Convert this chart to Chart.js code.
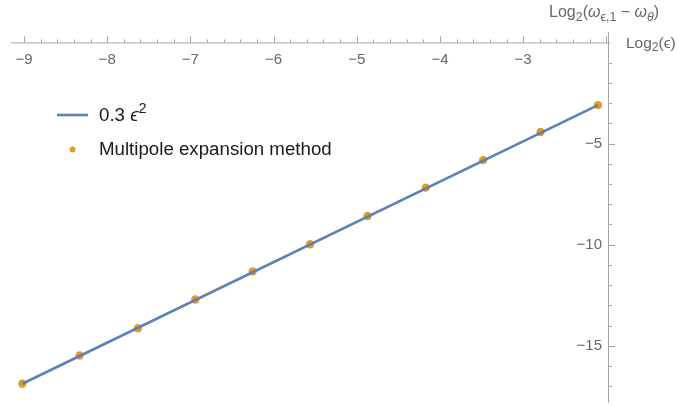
<!DOCTYPE html>
<html lang="en">
<head>
    <meta charset="UTF-8" />
    <title>Log2 plot</title>
    <script src="https://cdn.jsdelivr.net/npm/chart.js"></script>
    <style>
        html, body { margin: 0; padding: 0; background: #fff; }
        #wrap { width: 679px; height: 407px; position: relative; }
    </style>
</head>
<body>
<div id="wrap"><canvas id="chart"></canvas></div>

<script>
    // data
    const pointsX = [-9.02, -8.33, -7.63, -6.94, -6.25, -5.56, -4.87, -4.17, -3.48, -2.79, -2.10];
    const pointsY = [-16.88, -15.48, -14.13, -12.71, -11.32, -9.98, -8.58, -7.18, -5.82, -4.43, -3.10];
    const lineX = [-9.02, -2.10];
    const lineY = [-16.88, -3.10];

    const xTickLabels = [-9, -8, -7, -6, -5, -4, -3];
    const yTickLabels = [-15, -10, -5];

    const BLUE = '#5e81b5';
    const ORANGE = '#e19c24';
    const AXIS = '#a6a6a6';
    const TICKTEXT = '#666666';
    const FONT = '"Liberation Sans", Arial, sans-serif';

    const minus = v => (v < 0 ? '\u2212' + Math.abs(v) : String(v));

    // draws text pieces with sub/superscripts, returns width
    function drawRich(ctx, x, y, parts, size, color) {
        ctx.save();
        ctx.fillStyle = color;
        ctx.textBaseline = 'middle';
        ctx.textAlign = 'left';
        let cx = x;
        for (const p of parts) {
            const s = (p.sub || p.sup) ? size * 0.78 : size;
            ctx.font = (p.italic ? 'italic ' : '') + s + 'px ' + FONT;
            let dy = 0;
            if (p.sub) dy = size * 0.3;
            if (p.sup) dy = -size * 0.36;
            ctx.fillText(p.t, cx, y + dy);
            cx += ctx.measureText(p.t).width;
        }
        ctx.restore();
        return cx - x;
    }

    const axesPlugin = {
        id: 'mmaAxes',
        afterDraw(chart) {
            const ctx = chart.ctx;
            const xs = chart.scales.x, ys = chart.scales.y;
            const area = chart.chartArea;
            const y0 = ys.getPixelForValue(0);
            const xAxisX = area.right;

            ctx.save();
            ctx.strokeStyle = AXIS;
            ctx.lineWidth = 1;

            // x axis along y = 0
            ctx.beginPath();
            ctx.moveTo(area.left, y0 + 0.5);
            ctx.lineTo(xAxisX + 2, y0 + 0.5);
            ctx.stroke();

            // y axis at right edge
            ctx.beginPath();
            ctx.moveTo(xAxisX + 0.5, area.top);
            ctx.lineTo(xAxisX + 0.5, area.bottom);
            ctx.stroke();

            // x ticks (up from the line)
            for (let v = -9; v <= -1.99; v += 0.2) {
                const px = Math.round(xs.getPixelForValue(v)) + 0.5;
                const major = Math.abs(v - Math.round(v)) < 1e-6;
                ctx.beginPath();
                ctx.moveTo(px, y0);
                ctx.lineTo(px, y0 - (major ? 6 : 3));
                ctx.stroke();
            }
            // y ticks (right of the line)
            for (let v = -1; v >= -17; v--) {
                const py = Math.round(ys.getPixelForValue(v)) + 0.5;
                const major = v % 5 === 0;
                ctx.beginPath();
                ctx.moveTo(xAxisX, py);
                ctx.lineTo(xAxisX + (major ? 7 : 4), py);
                ctx.stroke();
            }
            ctx.restore();

            // tick labels
            ctx.save();
            ctx.fillStyle = TICKTEXT;
            ctx.font = '15px ' + FONT;
            ctx.textBaseline = 'middle';
            ctx.textAlign = 'center';
            for (const v of xTickLabels) {
                ctx.fillText(minus(v), xs.getPixelForValue(v), y0 + 17);
            }
            ctx.textAlign = 'right';
            for (const v of yTickLabels) {
                ctx.fillText(minus(v), xAxisX - 6, ys.getPixelForValue(v));
            }
            ctx.restore();

            // axis labels
            drawRich(ctx, xAxisX + 18, y0 + 1, [
                { t: 'Log' }, { t: '2', sub: true }, { t: '(' }, { t: '\u03f5' }, { t: ')' }
            ], 15.5, TICKTEXT);
            drawRich(ctx, 549, 13, [
                { t: 'Log' }, { t: '2', sub: true }, { t: '(' }, { t: '\u03c9', italic: true },
                { t: '\u03f5,1', sub: true }, { t: ' \u2212 ' }, { t: '\u03c9', italic: true },
                { t: '\u03b8', sub: true, italic: true }, { t: ')' }
            ], 16, TICKTEXT);

            // legend
            const ds = chart.data.datasets;
            ctx.save();
            ctx.strokeStyle = ds[0].borderColor;
            ctx.lineWidth = ds[0].borderWidth;
            ctx.beginPath();
            ctx.moveTo(57, 115);
            ctx.lineTo(88, 115);
            ctx.stroke();
            ctx.fillStyle = ds[1].backgroundColor;
            ctx.beginPath();
            ctx.arc(72.5, 149.5, 3, 0, Math.PI * 2);
            ctx.fill();
            ctx.restore();
            drawRich(ctx, 99, 116, [
                { t: '0.3 ' }, { t: '\u03f5', italic: true }, { t: '2', sup: true }
            ], 18.7, '#1a1a1a');
            drawRich(ctx, 99, 150, [{ t: ds[1].label }], 18.7, '#1a1a1a');
        }
    };

    new Chart(document.getElementById('chart'), {
        type: 'scatter',
        data: {
            datasets: [
                {
                    label: '0.3 \u03f5\u00b2',
                    data: lineX.map((x, i) => ({ x: x, y: lineY[i] })),
                    showLine: true,
                    borderColor: BLUE,
                    borderWidth: 2.6,
                    pointRadius: 0,
                    pointHoverRadius: 0
                },
                {
                    label: 'Multipole expansion method',
                    data: pointsX.map((x, i) => ({ x: x, y: pointsY[i] })),
                    backgroundColor: ORANGE,
                    borderColor: ORANGE,
                    borderWidth: 0,
                    pointRadius: 4.2
                }
            ]
        },
        options: {
            responsive: true,
            maintainAspectRatio: false,
            animation: false,
            layout: { padding: { left: 11, right: 71, top: 32.3, bottom: 0 } },
            scales: {
                x: { type: 'linear', min: -9.156, max: -1.98, display: false },
                y: { type: 'linear', min: -17.82, max: 0.5, display: false }
            },
            plugins: {
                legend: { display: false },
                tooltip: { enabled: false }
            }
        },
        plugins: [axesPlugin]
    });
</script>
</body>
</html>
